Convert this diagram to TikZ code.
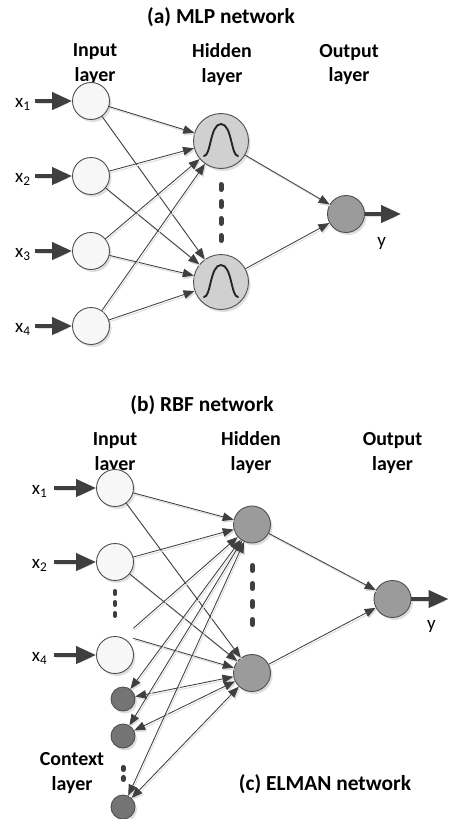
\documentclass[tikz,border=0pt]{standalone}
\usepackage{fontspec}
\setmainfont{Carlito}
\usetikzlibrary{arrows.meta,shadows}

\definecolor{ink}{HTML}{3F3F3F}
\definecolor{rim}{HTML}{505050}
\definecolor{ghost}{HTML}{DEDEDE}
\definecolor{inputfill}{HTML}{F7F7F7}
\definecolor{mlpfill}{HTML}{D0D0D0}
\definecolor{unitfill}{HTML}{9B9B9B}
\definecolor{ctxfill}{HTML}{747474}

\tikzset{
  unit/.style={circle, draw=rim, line width=0.9bp, inner sep=0pt,
    drop shadow={shadow xshift=2bp, shadow yshift=-2.5bp, fill=ghost, opacity=1}},
  inputunit/.style={unit, minimum size=37bp, fill=inputfill},
  mlpunit/.style={unit, minimum size=55bp, fill=mlpfill},
  greyunit/.style={unit, minimum size=37bp, fill=unitfill},
  ctxunit/.style={unit, minimum size=24bp, fill=ctxfill},
  link/.style={draw=ink, line width=0.85bp, -{Triangle[length=11bp,width=8.5bp]},
    preaction={draw=ghost, line width=1bp, transform canvas={shift={(1.2bp,-1.8bp)}}}},
  duallink/.style={link, {Triangle[length=11bp,width=8.5bp]}-{Triangle[length=11bp,width=8.5bp]}},
  feed/.style={draw=ink, line width=4bp, -{Triangle[length=20bp,width=17bp]},
    preaction={draw=ghost, transform canvas={shift={(1.5bp,-2bp)}}}},
  ellipsis/.style={draw=ink, line cap=round},
  caption/.style={font=\bfseries\fontsize{21.5}{25}\selectfont, inner sep=0pt},
  layername/.style={font=\bfseries\fontsize{20}{25}\selectfont, align=center, inner sep=0pt},
  sig/.style={font=\fontsize{19}{22}\selectfont, inner sep=0pt},
  bell/.pic={\draw[line width=1.9bp, line cap=round, draw=black!85]
    (-17,15) .. controls (-10,15) and (-11,-17) .. (0,-17)
             .. controls (11,-17) and (10,15) .. (17,15);}
}

\begin{document}
\begin{tikzpicture}[x=1bp, y=-1bp]
\useasboundingbox (0,0) rectangle (449,819);

% ---------------- (a) MLP network ----------------
\node[caption, anchor=base] (capA) at (221,24) {(a) MLP network};
\node[layername] (inLabA)  at (95,64.5)  {Input\\layer};
\node[layername] (hidLabA) at (222,64.5) {Hidden\\layer};
\node[layername] (outLabA) at (349,64.5) {Output\\layer};

\foreach \i/\yy in {1/101,2/176,3/251,4/326}{
  \node[inputunit] (a\i) at (91,\yy) {};
  \node[sig, anchor=base west] (ax\i) at (15,\yy+6.5) {x\textsubscript{\i}};
  \coordinate (as\i) at (35,\yy);
  \draw[feed] (as\i) -- (a\i);
}

\node[mlpunit] (h1) at (221,141) {};
\node[mlpunit] (h2) at (221,282) {};
\pic at (h1.center) {bell};
\pic at (h2.center) {bell};
\draw[ellipsis, line width=5bp, dash pattern=on 5bp off 12bp] (221,184.5) -- (221,240.5);

\node[greyunit] (oA) at (346,214) {};
\coordinate (oAend) at (401,214);
\node[sig, anchor=base] (yA) at (381.7,246) {y};

\foreach \i in {1,2,3,4}{
  \draw[link] (a\i) -- (h1);
  \draw[link] (a\i) -- (h2);
}
\draw[link] (h1) -- (oA);
\draw[link] (h2) -- (oA);
\draw[feed] (oA) -- (oAend);

% ---------------- (b) RBF / (c) ELMAN network ----------------
\node[caption, anchor=base] (capB) at (202,411.7) {(b) RBF network};
\node[layername] (inLabB)  at (115,453) {Input\\layer};
\node[layername] (hidLabB) at (251,453) {Hidden\\layer};
\node[layername] (outLabB) at (392.5,453) {Output\\layer};

\foreach \i/\yy in {1/488,2/562,4/655}{
  \node[inputunit] (b\i) at (115,\yy) {};
  \node[sig, anchor=base west] (bx\i) at (31.7,\yy+6.5) {x\textsubscript{\i}};
  \coordinate (bs\i) at (54.3,\yy);
  \draw[feed] (bs\i) -- (b\i);
}
\draw[ellipsis, line width=4bp, dash pattern=on 3bp off 8bp] (115,591) -- (115,616);

\node[greyunit] (g1) at (252,524.5) {};
\node[greyunit] (g2) at (252,673) {};
\draw[ellipsis, line width=5bp, dash pattern=on 5bp off 13bp] (252.5,565.5) -- (252.5,624.5);

\node[greyunit] (oB) at (392.5,599) {};
\coordinate (oBend) at (448.5,599);
\node[sig, anchor=base] (yB) at (431.3,629) {y};

\node[ctxunit] (c1) at (123,699) {};
\node[ctxunit] (c2) at (123,736) {};
\node[ctxunit] (c3) at (123,807) {};
\draw[ellipsis, line width=4.5bp, dash pattern=on 2.5bp off 7.5bp] (123.3,767.2) -- (123.3,779.7);
\node[layername] (ctxLab) at (72,773) {Context\\layer};
\node[caption, anchor=base] (capC) at (325,790.7) {(c) ELMAN network};

% input side
\coordinate (dotsUp) at (133.3,628.3);
\coordinate (dotsDn) at (133.3,638.3);
\foreach \i in {1,2}{
  \draw[link] (b\i) -- (g1);
  \draw[link] (b\i) -- (g2);
}
\draw[link] (dotsUp) -- (g1);
\draw[link] (dotsDn) -- (g2);

% recurrent context connections
\foreach \i in {1,2,3}{
  \draw[duallink] (c\i) -- (g1);
  \draw[duallink] (c\i) -- (g2);
}

\draw[link] (g1) -- (oB);
\draw[link] (g2) -- (oB);
\draw[feed] (oB) -- (oBend);
\end{tikzpicture}
\end{document}
